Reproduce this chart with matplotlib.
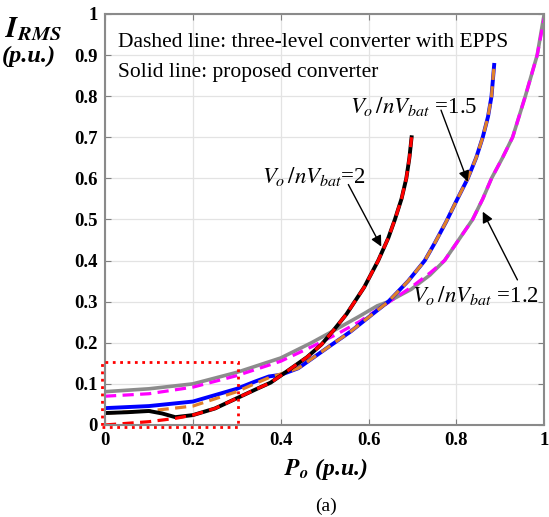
import matplotlib.pyplot as plt
from matplotlib.patches import Rectangle

plt.rcParams["font.family"] = ["Liberation Serif", "DejaVu Serif"]
plt.rcParams["mathtext.fontset"] = "stix"

# ratio Vo/nVbat = 2
p_r2 = [0, 0.05, 0.10, 0.13, 0.16, 0.20, 0.25, 0.30, 0.35, 0.377, 0.40, 0.42, 0.46,
        0.493, 0.52, 0.55, 0.59, 0.622, 0.645, 0.66, 0.675, 0.686, 0.693, 0.698]
i_r2_prop = [0.029, 0.031, 0.034, 0.028, 0.019, 0.024, 0.040, 0.065, 0.09, 0.103,
             0.12, 0.135, 0.165, 0.196, 0.23, 0.27, 0.335, 0.40, 0.455, 0.50,
             0.55, 0.60, 0.65, 0.70]
i_r2_epps = [0.0, 0.004, 0.008, 0.012, 0.016, 0.024, 0.040, 0.065, 0.09, 0.103,
             0.12, 0.135, 0.165, 0.196, 0.23, 0.27, 0.335, 0.40, 0.455, 0.50,
             0.55, 0.60, 0.65, 0.70]

# ratio Vo/nVbat = 1.5
p_r15 = [0, 0.1, 0.2, 0.3, 0.34, 0.373, 0.40, 0.44, 0.509, 0.56, 0.607, 0.645,
         0.69, 0.728, 0.752, 0.777, 0.80, 0.826, 0.845, 0.86, 0.872, 0.880, 0.886]
i_r15_prop = [0.041, 0.046, 0.057, 0.088, 0.105, 0.118, 0.122, 0.138, 0.19, 0.228,
              0.268, 0.30, 0.35, 0.40, 0.445, 0.495, 0.545, 0.60, 0.65, 0.70,
              0.75, 0.80, 0.876]
i_r15_epps = [0.029, 0.034, 0.046, 0.081, 0.100, 0.115, 0.124, 0.138, 0.19, 0.228,
              0.268, 0.30, 0.35, 0.40, 0.445, 0.495, 0.545, 0.60, 0.65, 0.70,
              0.75, 0.80, 0.876]

# ratio Vo/nVbat = 1.2
p_r12 = [0, 0.1, 0.2, 0.3, 0.4, 0.47, 0.53, 0.58, 0.62, 0.645, 0.697, 0.74,
         0.773, 0.805, 0.837, 0.86, 0.88, 0.905, 0.928, 0.957, 0.984, 1.0]
i_r12_prop = [0.081, 0.088, 0.10, 0.128, 0.163, 0.20, 0.235, 0.265, 0.29, 0.30,
              0.33, 0.365, 0.40, 0.45, 0.50, 0.55, 0.60, 0.65, 0.70, 0.80, 0.90, 1.0]
i_r12_epps = [0.07, 0.076, 0.092, 0.12, 0.155, 0.19, 0.222, 0.252, 0.28, 0.298,
              0.335, 0.37, 0.40, 0.45, 0.50, 0.55, 0.60, 0.65, 0.70, 0.80, 0.90, 0.99]

ticks = [0, 0.1, 0.2, 0.3, 0.4, 0.5, 0.6, 0.7, 0.8, 0.9, 1]
tick_labels = ["0", "0.1", "0.2", "0.3", "0.4", "0.5", "0.6", "0.7", "0.8", "0.9", "1"]
xticks = [0, 0.2, 0.4, 0.6, 0.8, 1]
xtick_labels = ["0", "0.2", "0.4", "0.6", "0.8", "1"]

fig = plt.figure(figsize=(5.49, 5.17), dpi=100)
ax = fig.add_axes([0.1913, 0.178, 0.80, 0.795])

dash = (3.5, 2)
ax.plot(p_r12, i_r12_prop, color="#8c8c8c", lw=2.6)
ax.plot(p_r12, i_r12_epps, color="#ff00ff", lw=2.3, dashes=dash)
ax.plot(p_r15, i_r15_prop, color="#0000ff", lw=2.8)
ax.plot(p_r15, i_r15_epps, color="#e0802a", lw=2.3, dashes=dash)
ax.plot(p_r2, i_r2_prop, color="black", lw=2.8)
ax.plot(p_r2, i_r2_epps, color="#ff0000", lw=2.3, dashes=dash)

ax.add_patch(Rectangle((-0.007, -0.005), 0.31, 0.158, fill=False, ec="#ff0000",
                       lw=2, ls=":", clip_on=False, zorder=5))

ax.set_xlim(0, 1)
ax.set_ylim(0, 1)
ax.set_xticks(xticks)
ax.set_xticklabels(xtick_labels, fontweight="bold", fontsize=13.5)
ax.set_yticks(ticks)
ax.set_yticklabels(tick_labels, fontweight="bold", fontsize=13.5)
ax.tick_params(direction="in", length=4, color="#808080", top=True, right=True,
               pad=5)
ax.grid(True, color="#e3e3e3", lw=0.9)
ax.set_axisbelow(True)
for s in ax.spines.values():
    s.set_color("#8a8a8a")
    s.set_linewidth(1.5)

ax.text(0.029, 0.92, "Dashed line: three-level converter with EPPS", fontsize=15.5)
ax.text(0.029, 0.847, "Solid line: proposed converter", fontsize=15.5)

arrow = dict(arrowstyle="-|>", color="black", lw=1, mutation_scale=16,
             shrinkA=0, shrinkB=0)
ax.text(0.357, 0.589, r"$V_o\,/nV_{bat}$=2", fontsize=16.5)
ax.annotate("", xy=(0.629, 0.434), xytext=(0.554, 0.585), arrowprops=arrow)
ax.text(0.558, 0.759, r"$V_o\,/nV_{bat}$ =1.5", fontsize=16.5)
ax.annotate("", xy=(0.826, 0.592), xytext=(0.765, 0.766), arrowprops=arrow)
ax.text(0.70, 0.30, r"$V_o\,/nV_{bat}$ =1.2", fontsize=16.5)
ax.annotate("", xy=(0.86, 0.519), xytext=(0.939, 0.353), arrowprops=arrow)

fig.text(0.01, 0.928, r"$\mathbfit{I}_{\mathbfit{RMS}}$", fontsize=21)
fig.text(0.004, 0.881, "(p.u.)", fontsize=17.5, fontweight="bold", fontstyle="italic")
fig.text(0.594, 0.082, r"$\mathbfit{P}_{\mathbfit{o}}$ (p.u.)",
         fontsize=17, fontweight="bold", fontstyle="italic", ha="center")
fig.text(0.594, 0.012, "(a)", fontsize=14, ha="center")

fig.savefig("out.png", dpi=100)
